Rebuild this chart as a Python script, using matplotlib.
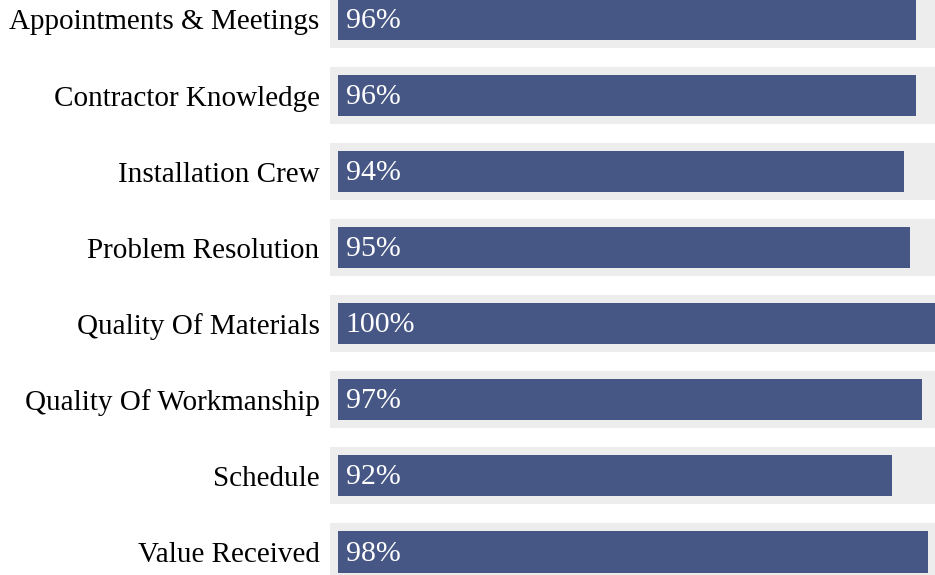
import matplotlib.pyplot as plt

categories = ["Appointments & Meetings", "Contractor Knowledge", "Installation Crew",
              "Problem Resolution", "Quality Of Materials", "Quality Of Workmanship",
              "Schedule", "Value Received"]
scores = [96, 96, 94, 95, 100, 97, 92, 98]

BLUE = "#465785"
TRACK = "#ededed"

fig = plt.figure(figsize=(9.35, 5.75), dpi=100)
# axes from the left edge of the gray track to the right edge of the figure
ax = fig.add_axes([330 / 935, 0, 1 - 330 / 935, 1])

pos = list(range(len(categories)))
ax.barh(pos, [101.5] * len(pos), left=-1.33, height=0.75, color=TRACK)
ax.barh(pos, scores, left=0, height=0.54, color=BLUE)

for y, v in zip(pos, scores):
    ax.text(1.3, y + 0.02, f"{v}%", color="white", fontsize=21.5,
            family="Liberation Serif", va="center", ha="left")

ax.set_xlim(-1.33, 99.17)
ax.set_ylim(7.302, -0.256)
ax.set_yticks(pos)
ax.set_yticklabels(categories, fontsize=21, family="Liberation Serif")
ax.tick_params(axis="y", length=0, pad=7.5)
ax.set_xticks([])
for s in ax.spines.values():
    s.set_visible(False)

fig.savefig("out.png", dpi=100)
